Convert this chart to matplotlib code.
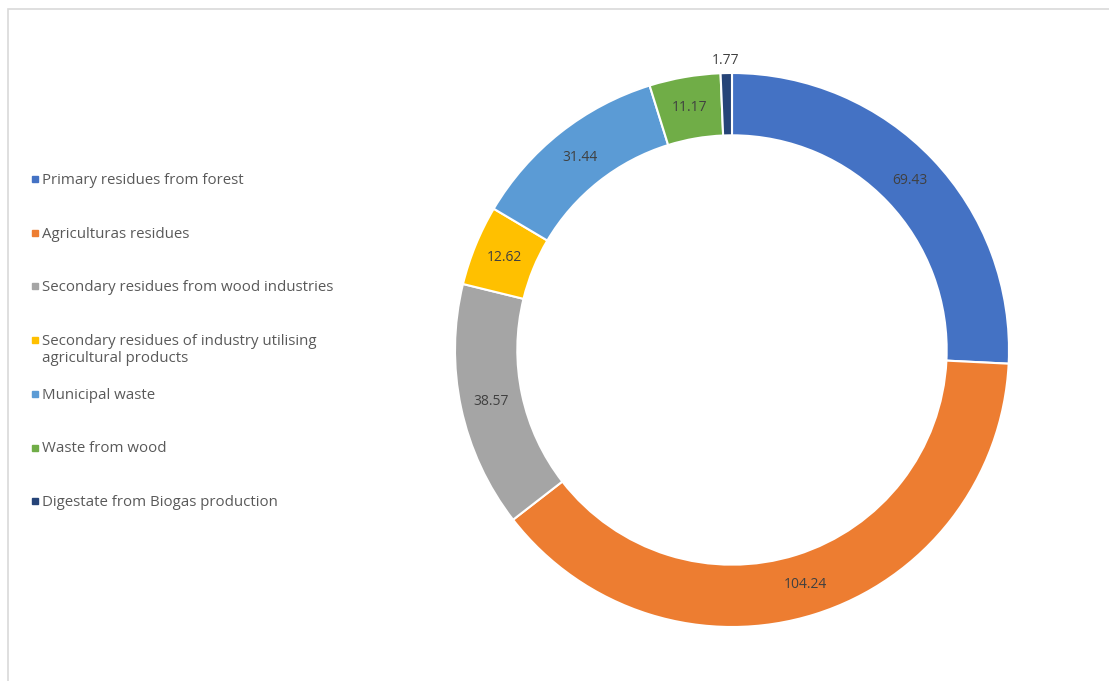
import numpy as np
import matplotlib.pyplot as plt
from matplotlib.lines import Line2D
from matplotlib.patches import Rectangle

# biomass residue categories and values
categories = [
    "Primary residues from forest",
    "Agriculturas residues",
    "Secondary residues from wood industries",
    "Secondary residues of industry utilising\nagricultural products",
    "Municipal waste",
    "Waste from wood",
    "Digestate from Biogas production",
]
values = [69.43, 104.24, 38.57, 12.62, 31.44, 11.17, 1.77]
colors = ["#4472C4", "#ED7D31", "#A5A5A5", "#FFC000", "#5B9BD5", "#70AD47", "#264478"]

plt.rcParams['font.family'] = ['Open Sans', 'DejaVu Sans']

W, H = 1109, 681
fig = plt.figure(figsize=(W / 100, H / 100), dpi=100)

# light chart frame (cut by the image edges)
fig.add_artist(Rectangle((8 / W, -0.1), 1.2, 1 - 9 / H + 0.1, transform=fig.transFigure,
                         facecolor="none", edgecolor="#D9D9D9", linewidth=1.2, zorder=-1))

# donut axes, centre ~ (732, 350) px, outer radius ~ 277 px
cx, cy, r = 732, 350, 277
ax = fig.add_axes([(cx - r) / W, (H - cy - r) / H, 2 * r / W, 2 * r / H])
ring = 0.225
wedges, _ = ax.pie(values, colors=colors, startangle=90, counterclock=False, radius=1,
                   wedgeprops=dict(width=ring, edgecolor="white", linewidth=1.5))
ax.set_xlim(-1, 1)
ax.set_ylim(-1, 1)
ax.set_aspect("equal")
ax.axis("off")

for w, v in zip(wedges, values):
    ang = np.deg2rad((w.theta1 + w.theta2) / 2)
    rr = 1.045 if v < 5 else 1 - ring / 2
    ax.text(rr * np.cos(ang), rr * np.sin(ang), f"{v:.2f}", ha="center", va="center",
            fontsize=10, color="#404040")

# legend drawn Excel-style: entries on a fixed step, wrapped lines spill downwards
top, step = 179, 53.7
for i, (lab, c) in enumerate(zip(categories, colors)):
    yc = top + step * i
    fig.add_artist(Line2D([35 / W], [1 - yc / H], marker="s", markersize=4.5, linestyle="none",
                          markerfacecolor=c, markeredgecolor=c, transform=fig.transFigure))
    fig.text(42 / W, 1 - (yc - 6) / H, lab, va="top", ha="left",
             fontsize=10.8, color="#595959", linespacing=1.15)

fig.savefig("out.png", dpi=100)
